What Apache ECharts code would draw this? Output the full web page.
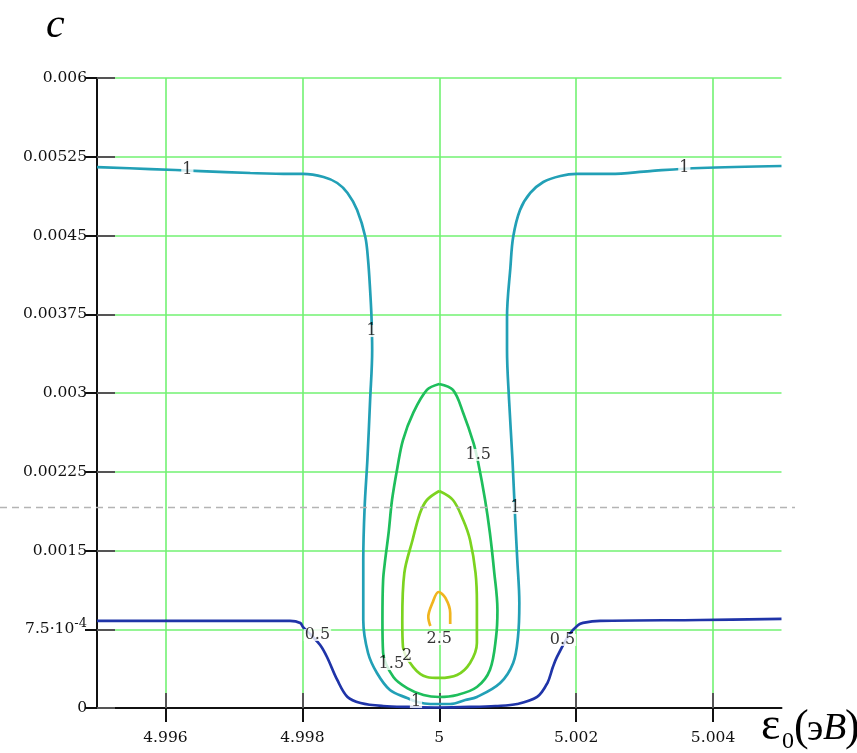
<!DOCTYPE html>
<html>
<head>
<meta charset="utf-8">
<script src="https://cdn.jsdelivr.net/npm/echarts@6/dist/echarts.min.js"></script>
<style>
html,body{margin:0;padding:0;background:#fff;}
#chart{width:857px;height:753px;}
</style>
</head>
<body>
<div id="chart"></div>
<script>
// ---- axis ticks ----
const xTicks = [4.996, 4.998, 5.0, 5.002, 5.004];
const xTickLabels = ['4.996', '4.998', '5', '5.002', '5.004'];
const yTicks = [0, 0.00075, 0.0015, 0.00225, 0.003, 0.00375, 0.0045, 0.00525, 0.006];
const yTickLabels = ['0', '7.5·10{sup|-4}', '0.0015', '0.00225', '0.003', '0.00375', '0.0045', '0.00525', '0.006'];

// ---- contour levels ----
const contour05 = [
  [4.99500, 0.000829], [4.99651, 0.000829], [4.99782, 0.000829], [4.99797, 0.000810],
  [4.99801, 0.000771], [4.99812, 0.000700], [4.99826, 0.000600], [4.99836, 0.000486],
  [4.99851, 0.000267], [4.99866, 0.000105], [4.99885, 0.000048], [4.99918, 0.000019],
  [4.99958, 0.000010], [5.00000, 0.000005], [5.00045, 0.000010], [5.00082, 0.000019],
  [5.00114, 0.000038], [5.00143, 0.000105], [5.00158, 0.000238], [5.00166, 0.000390],
  [5.00172, 0.000486], [5.00190, 0.000700], [5.00203, 0.000790], [5.00210, 0.000810],
  [5.00235, 0.000829], [5.00381, 0.000838], [5.00500, 0.000848]
];
const contour10 = [
  [4.99500, 0.005152], [4.99578, 0.005133], [4.99651, 0.005114], [4.99724, 0.005095],
  [4.99782, 0.005086], [4.99801, 0.005086], [4.99831, 0.005057], [4.99851, 0.005000],
  [4.99866, 0.004905], [4.99880, 0.004743], [4.99892, 0.004486], [4.99896, 0.004267],
  [4.99899, 0.003981], [4.99901, 0.003724], [4.99902, 0.003410], [4.99899, 0.002933],
  [4.99895, 0.002362], [4.99891, 0.001914], [4.99889, 0.001410], [4.99889, 0.000838],
  [4.99896, 0.000524], [4.99909, 0.000333], [4.99928, 0.000171], [4.99953, 0.000095],
  [4.99968, 0.000057], [4.99987, 0.000038], [5.00016, 0.000038], [5.00038, 0.000076],
  [5.00055, 0.000105], [5.00089, 0.000238], [5.00108, 0.000429], [5.00115, 0.000676],
  [5.00117, 0.001000], [5.00114, 0.001410], [5.00111, 0.001790], [5.00107, 0.002362],
  [5.00102, 0.002933], [5.00099, 0.003410], [5.00099, 0.003724], [5.00104, 0.004200],
  [5.00108, 0.004486], [5.00118, 0.004743], [5.00133, 0.004905], [5.00152, 0.005010],
  [5.00177, 0.005067], [5.00201, 0.005086], [5.00250, 0.005086], [5.00308, 0.005114],
  [5.00381, 0.005143], [5.00500, 0.005162]
];
const contour15 = [
  [5.00000, 0.003086], [5.00020, 0.003029], [5.00035, 0.002810], [5.00050, 0.002524],
  [5.00057, 0.002333], [5.00067, 0.001981], [5.00074, 0.001667], [5.00080, 0.001314],
  [5.00085, 0.000933], [5.00083, 0.000676], [5.00074, 0.000362], [5.00055, 0.000200],
  [5.00026, 0.000124], [5.00000, 0.000105], [4.99977, 0.000124], [4.99953, 0.000190],
  [4.99933, 0.000295], [4.99918, 0.000524], [4.99917, 0.000838], [4.99918, 0.001219],
  [4.99921, 0.001410], [4.99926, 0.001667], [4.99931, 0.001981], [4.99939, 0.002295],
  [4.99947, 0.002552], [4.99962, 0.002810], [4.99982, 0.003029], [5.00000, 0.003086]
];
const contour20 = [
  [5.00000, 0.002067], [5.00020, 0.001981], [5.00035, 0.001790], [5.00045, 0.001600],
  [5.00053, 0.001286], [5.00055, 0.001000], [5.00055, 0.000619], [5.00045, 0.000429],
  [5.00026, 0.000314], [5.00000, 0.000286], [4.99982, 0.000295], [4.99962, 0.000390],
  [4.99947, 0.000581], [4.99946, 0.000838], [4.99949, 0.001286], [4.99961, 0.001600],
  [4.99972, 0.001857], [4.99982, 0.001981], [5.00000, 0.002067]
];
const contour25 = [
  [4.99987, 0.000781], [4.99984, 0.000867], [4.99990, 0.001000], [4.99999, 0.001105],
  [5.00009, 0.001048], [5.00016, 0.000905], [5.00016, 0.000800]
];
const contourLabels = [
  [4.99632, 0.005124, '1'], [4.99901, 0.003590, '1'], [5.00057, 0.002410, '1.5'],
  [5.00111, 0.001905, '1'], [5.00358, 0.005143, '1'], [4.99966, 0.000057, '1'],
  [4.99930, 0.000419, '1.5'], [4.99953, 0.000495, '2'], [5.00000, 0.000657, '2.5'],
  [4.99822, 0.000695, '0.5'], [5.00180, 0.000648, '0.5']
];
const dashedLevel = 0.00191;
const dashedSpan = [4.99358, 5.0052];

const levelColors = ['#1f34a8', '#22a0b6', '#1ebe5c', '#7cd320', '#f0b41e'];

const chart = echarts.init(document.getElementById('chart'), null, {renderer: 'canvas'});
const serif = 'DejaVu Serif';
const gridGreen = '#72f272';

function nearestIdx(arr, v) {
  let bi = 0, bd = Infinity;
  arr.forEach((a, i) => { const d = Math.abs(a - v); if (d < bd) { bd = d; bi = i; } });
  return bi;
}

const xBase = {type: 'value', min: 4.995, max: 5.005, position: 'bottom', gridIndex: 0};
const yBase = {type: 'value', min: 0, max: 0.006, interval: 0.00075, position: 'left', gridIndex: 0};

function lineSeries(data, color) {
  return {
    type: 'line', data: data, showSymbol: false, smooth: 0.35, z: 2,
    lineStyle: {color: color, width: 2.7}, silent: true
  };
}

const option = {
  animation: false,
  backgroundColor: '#fff',
  grid: [
    {left: 97, right: 75.5, top: 78, bottom: 45, outerBoundsMode: 'none', containLabel: false},
    {left: 0, right: 62, top: 78, bottom: 45, outerBoundsMode: 'none', containLabel: false, show: false}
  ],
  xAxis: [
    Object.assign({}, xBase, {
      axisLine: {show: true, onZero: false, lineStyle: {color: '#111', width: 2}},
      axisTick: {show: true, inside: false, length: 14, customValues: xTicks, lineStyle: {color: '#111', width: 2}},
      axisLabel: {show: true, customValues: xTicks, margin: 22, color: '#111', fontFamily: serif, fontSize: 15.5,
        formatter: v => xTickLabels[nearestIdx(xTicks, v)]},
      splitLine: {show: true, lineStyle: {color: gridGreen, width: 1.6}}
    }),
    Object.assign({}, xBase, {
      axisLine: {show: false},
      axisTick: {show: true, inside: true, length: 15, customValues: xTicks, lineStyle: {color: '#555', width: 2}},
      axisLabel: {show: false},
      splitLine: {show: false}
    }),
    {type: 'value', gridIndex: 1, min: dashedSpan[0], max: dashedSpan[1], show: false}
  ],
  yAxis: [
    Object.assign({}, yBase, {
      axisLine: {show: true, onZero: false, lineStyle: {color: '#111', width: 2}},
      axisTick: {show: true, inside: false, length: 12, lineStyle: {color: '#111', width: 2}},
      axisLabel: {show: true, margin: 10, color: '#111', fontFamily: serif, fontSize: 15.5,
        formatter: v => yTickLabels[nearestIdx(yTicks, v)],
        rich: {sup: {fontSize: 13, fontFamily: serif, color: '#111', verticalAlign: 'top', padding: [0, 0, 12, 0]}}},
      splitLine: {show: true, lineStyle: {color: gridGreen, width: 1.6}}
    }),
    Object.assign({}, yBase, {
      axisLine: {show: false},
      axisTick: {show: true, inside: true, length: 18, lineStyle: {color: '#555', width: 2}},
      axisLabel: {show: false},
      splitLine: {show: false}
    }),
    {type: 'value', gridIndex: 1, min: 0, max: 0.006, show: false}
  ],
  series: [
    lineSeries(contour05, levelColors[0]),
    lineSeries(contour10, levelColors[1]),
    lineSeries(contour15, levelColors[2]),
    lineSeries(contour20, levelColors[3]),
    lineSeries(contour25, levelColors[4]),
    {
      type: 'scatter', data: contourLabels, symbolSize: 1, z: 3, silent: true,
      itemStyle: {color: 'rgba(0,0,0,0)'},
      label: {show: true, position: 'inside', formatter: p => p.data[2],
        fontFamily: serif, fontSize: 16, color: '#000', backgroundColor: '#fff',
        padding: [0, 1], lineHeight: 12}
    },
    {
      type: 'line', xAxisIndex: 2, yAxisIndex: 2,
      data: [[dashedSpan[0], dashedLevel], [dashedSpan[1], dashedLevel]],
      showSymbol: false, z: 4, silent: true,
      lineStyle: {color: '#b4b4b4', width: 1.5, type: [7, 5]}
    }
  ],
  graphic: [
    {type: 'text', left: 46, top: 5, style: {text: 'c', font: 'italic 42px "Liberation Serif"', fill: '#000'}},
    {type: 'text', x: 761, y: 727, style: {text: 'ε', font: '46px "Liberation Serif"', fill: '#000', verticalAlign: 'middle'}},
    {type: 'text', x: 782, y: 742, style: {text: '0', font: '24px "Liberation Serif"', fill: '#000', verticalAlign: 'middle'}},
    {type: 'text', x: 794, y: 728, style: {text: '(', font: '44px "Liberation Serif"', fill: '#000', verticalAlign: 'middle'}},
    {type: 'text', x: 807, y: 730, style: {text: 'э', font: '38px "Liberation Serif"', fill: '#000', verticalAlign: 'middle'}},
    {type: 'text', x: 823, y: 729, style: {text: 'B', font: 'italic 38px "Liberation Serif"', fill: '#000', verticalAlign: 'middle'}},
    {type: 'text', x: 845, y: 728, style: {text: ')', font: '44px "Liberation Serif"', fill: '#000', verticalAlign: 'middle'}}
  ]
};
chart.setOption(option);
</script>
</body>
</html>
